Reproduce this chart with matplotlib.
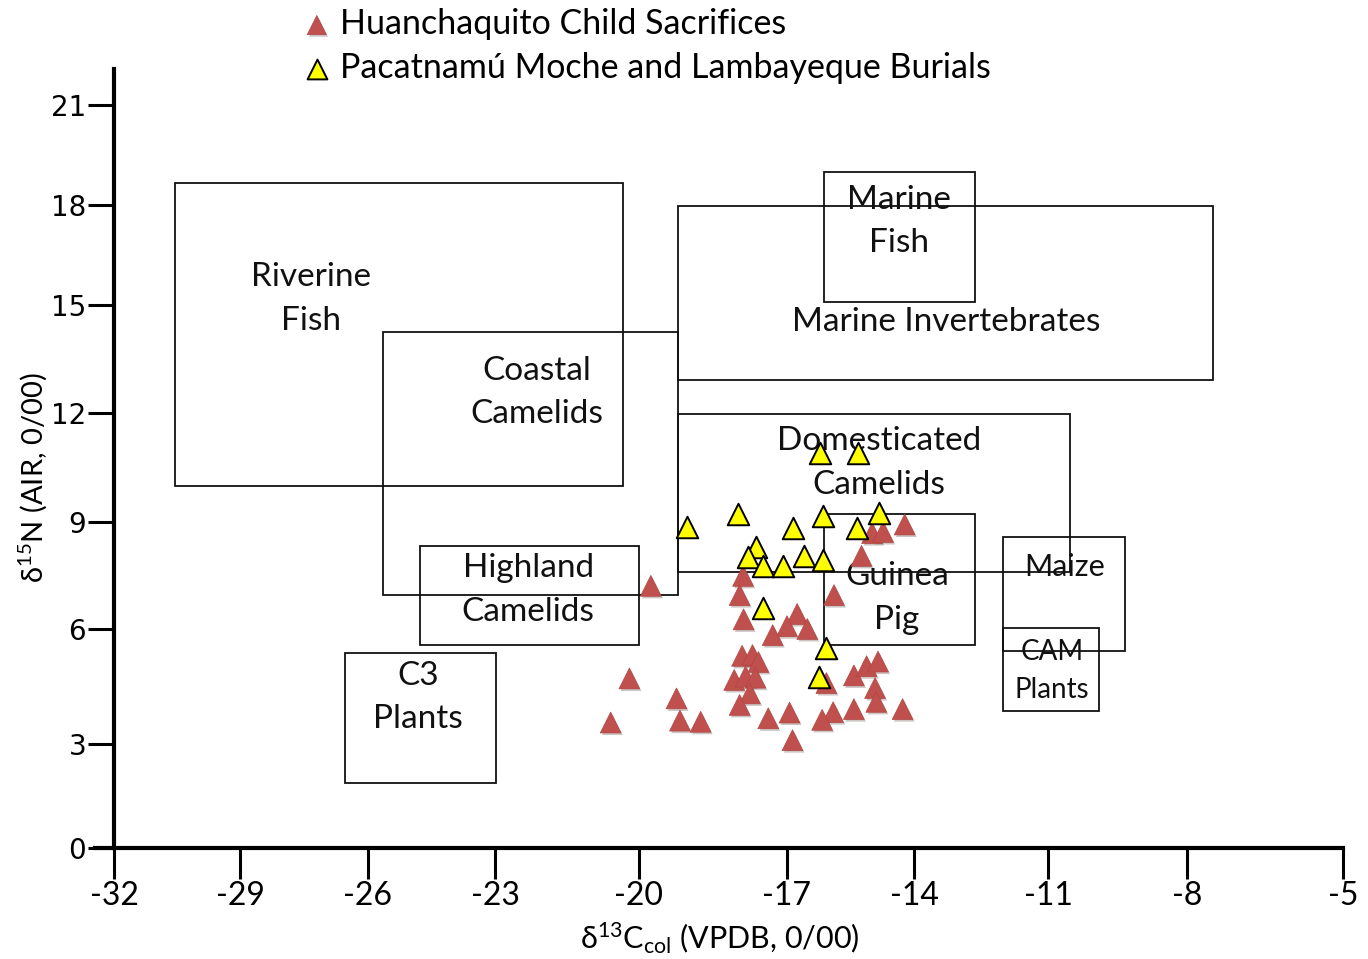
import numpy as np
import matplotlib
matplotlib.use("Agg")
import matplotlib.pyplot as plt
from matplotlib.patches import Rectangle
import matplotlib.patheffects as pe

plt.rcParams['font.family'] = ['Lato', 'DejaVu Sans']
plt.rcParams['mathtext.fontset'] = 'custom'
plt.rcParams['mathtext.rm'] = 'Lato'
plt.rcParams['mathtext.it'] = 'Lato'

# ---------------- data ----------------
# Huanchaquito Child Sacrifices (d13C, d15N)
red_x = [-19.76, -17.89, -17.96, -17.88, -15.89, -15.24, -14.99, -14.73, -14.22,
         -16.76, -17.00, -16.52, -17.29, -17.91, -17.70, -17.58, -20.20, -18.07,
         -17.84, -17.64, -17.75, -19.24, -17.96, -15.42, -15.12, -14.85, -14.92,
         -14.89, -15.42, -15.91, -16.17, -16.94, -17.38, -14.27, -20.59, -19.17,
         -18.75, -16.87, -16.07]
red_y = [7.21, 7.49, 6.95, 6.27, 6.95, 8.05, 8.69, 8.72, 8.93,
         6.42, 6.08, 6.00, 5.84, 5.30, 5.32, 5.14, 4.71, 4.67,
         4.76, 4.73, 4.32, 4.19, 4.02, 4.79, 5.03, 5.15, 4.46,
         4.10, 3.91, 3.83, 3.63, 3.82, 3.67, 3.91, 3.56, 3.61,
         3.58, 3.10, 4.59]

# Pacatnamú Moche and Lambayeque Burials
yel_x = [-16.22, -15.33, -19.03, -17.99, -16.87, -16.16, -14.83, -15.35, -17.63,
         -17.80, -17.49, -17.09, -16.59, -16.16, -17.49, -16.08, -16.24]
yel_y = [10.91, 10.91, 8.87, 9.22, 8.82, 9.17, 9.26, 8.82, 8.29,
         8.01, 7.77, 7.77, 8.06, 7.93, 6.60, 5.50, 4.74]

series_names = ["Huanchaquito Child Sacrifices",
                "Pacatnamú Moche and Lambayeque Burials"]

# food-source ranges (boxes)
box_x0 = [-30.55, -25.65, -19.21, -16.13, -19.21, -16.13, -24.77, -26.54, -12.00, -12.00]
box_x1 = [-20.33, -19.21, -7.50, -12.63, -10.53, -12.63, -20.00, -22.98, -9.34, -9.90]
box_y0 = [10.00, 6.95, 12.92, 15.09, 7.60, 5.58, 5.58, 1.875, 5.43, 3.86]
box_y1 = [18.66, 14.25, 17.97, 19.00, 11.97, 9.22, 8.33, 5.37, 8.58, 6.03]

label_text = ["Riverine", "Fish", "Coastal", "Camelids", "Marine Invertebrates",
              "Marine", "Fish", "Domesticated", "Camelids", "Guinea", "Pig",
              "Highland", "Camelids", "C3", "Plants", "Maize", "CAM", "Plants"]
label_x = [-27.34, -27.34, -22.12, -22.12, -13.28, -14.35, -14.35, -14.83, -14.83,
           -14.40, -14.40, -22.31, -22.31, -24.82, -24.82, -10.65, -10.91, -10.91]
label_y = [15.84, 14.56, 13.17, 11.97, 14.53, 18.15, 16.86, 11.23, 10.02,
           7.49, 6.25, 7.71, 6.48, 4.77, 3.65, 7.74, 5.40, 4.41]
label_size = [24, 24, 24, 24, 24, 24, 24, 24, 24, 24, 24, 24, 24, 24, 24, 22, 20, 20]

x_ticks = [-32, -29, -26, -23, -20, -17, -14, -11, -8, -5]
y_ticks = [0, 3, 6, 9, 12, 15, 18, 21]

# axis calibration of the original drawing (tick value -> pixel position)
x_cal_v = [-35, -32, -29, -26, -23, -20, -17, -14, -11, -8, -5, -2]
x_cal_p = [-13, 114, 240, 368, 495, 639, 787, 914, 1048, 1187, 1343, 1499]
y_cal_v = [-6, 0, 3, 6, 9, 12, 15, 18, 21, 27]
y_cal_p = [1056, 848, 744, 629, 522, 413, 305, 205, 105, -95]

W, H = 1368, 959
xv = np.array(x_cal_v, float); xp = np.array(x_cal_p, float)
yv = np.array(y_cal_v, float); yp = -np.array(y_cal_p, float)

def fx(v): return np.interp(v, xv, xp)
def ix(p): return np.interp(p, xp, xv)
def fy(v): return np.interp(v, yv, yp)
def iy(p): return np.interp(p, yp, yv)

fig = plt.figure(figsize=(W / 100, H / 100), dpi=100)
ax = fig.add_axes([0, 0, 1, 1])
ax.set_xscale('function', functions=(fx, ix))
ax.set_yscale('function', functions=(fy, iy))
ax.set_xlim(float(ix(0)), float(ix(W)))
ax.set_ylim(float(iy(-H)), float(iy(0)))
ax.patch.set_alpha(0)

# boxes
for x0, x1, y0, y1 in zip(box_x0, box_x1, box_y0, box_y1):
    ax.add_patch(Rectangle((x0, y0), x1 - x0, y1 - y0, fill=False,
                           edgecolor='#111111', linewidth=1.3, zorder=2))

for t, x, y, s in zip(label_text, label_x, label_y, label_size):
    ax.text(x, y, t, ha='center', va='center', fontsize=s, color='#111111', zorder=3)

red_sc = ax.scatter(red_x, red_y, marker='^', s=225, color='#C0504D',
                    edgecolors='#B04542', linewidths=0.5, zorder=4)
red_sc.set_path_effects([pe.SimplePatchShadow(offset=(1.2, -1.5), alpha=0.25),
                         pe.Normal()])
yel_sc = ax.scatter(yel_x, yel_y, marker='^', s=240, color='#FFFF00',
                    edgecolors='black', linewidths=1.4, zorder=5)

# axes
for side in ['top', 'right']:
    ax.spines[side].set_visible(False)
ax.spines['left'].set_position(('data', -32))
ax.spines['bottom'].set_position(('data', 0))
ax.spines['left'].set_bounds(0, 22.08)
ax.spines['bottom'].set_bounds(-32.45, -5)
for side in ['left', 'bottom']:
    ax.spines[side].set_linewidth(3.0)
    ax.spines[side].set_zorder(6)

ax.set_xticks(x_ticks)
ax.set_xticklabels([str(v) for v in x_ticks], fontsize=23)
ax.set_yticks(y_ticks)
ax.set_yticklabels([str(v) for v in y_ticks], fontsize=20, family='DejaVu Sans')
ax.tick_params(axis='x', direction='out', length=22, width=2.2, pad=2)
ax.tick_params(axis='y', direction='out', length=19, width=2.2, pad=1)
ax.xaxis.set_minor_locator(matplotlib.ticker.NullLocator())
ax.yaxis.set_minor_locator(matplotlib.ticker.NullLocator())

fig.text(720 / W, 1 - 938 / H, r"δ$^{13}$C$_{\mathrm{col}}$ (VPDB, 0/00)",
         ha='center', va='center', fontsize=22)
fig.text(33 / W, 1 - 478 / H, r"δ$^{15}$N (AIR, 0/00)", rotation=90,
         ha='center', va='center', fontsize=21)

leg = ax.legend([red_sc, yel_sc], series_names, loc='upper left',
                bbox_to_anchor=(302 / W, 1 - 8 / H), bbox_transform=fig.transFigure,
                frameon=False, fontsize=24.5, handlelength=0.87, handletextpad=0.24,
                labelspacing=0.36, borderpad=0, borderaxespad=0, markerscale=0.92,
                scatterpoints=1)

fig.savefig("out.png", dpi=100)
